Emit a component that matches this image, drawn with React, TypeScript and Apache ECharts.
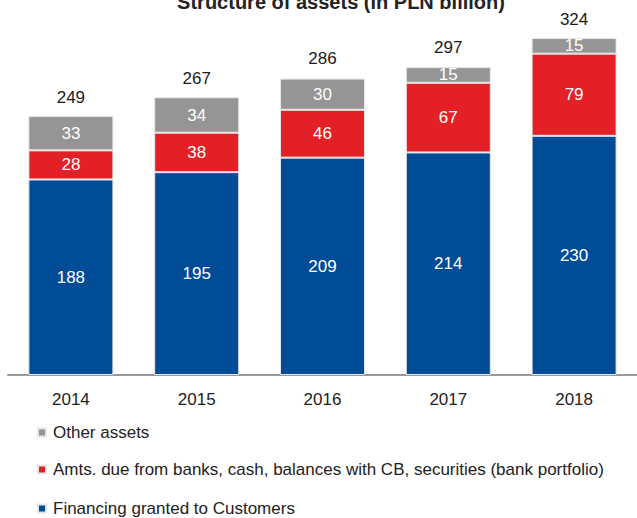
import React, { useEffect, useRef } from "react";
import * as echarts from "echarts";

const years = ["2014", "2015", "2016", "2017", "2018"];
const financing = [188, 195, 209, 214, 230];
const amtsDue = [28, 38, 46, 67, 79];
const otherAssets = [33, 34, 30, 15, 15];
const totals = [249, 267, 286, 297, 324];

const seriesNames = [
  "Financing granted to Customers",
  "Amts. due from banks, cash, balances with CB, securities (bank portfolio)",
  "Other assets",
];
const titleText = "Structure of assets (in PLN billion)";

const FONT = "'Liberation Sans', Arial, sans-serif";

export default function App() {
  const ref = useRef<HTMLDivElement>(null);
  useEffect(() => {
    if (!ref.current) return;
    const chart = echarts.init(ref.current, null, { renderer: "svg" });
    const innerLabel = {
      show: true,
      position: "inside" as const,
      color: "#ffffff",
      fontSize: 17,
      fontFamily: FONT,
    };
    const border = { borderColor: "#e6e6e6", borderWidth: 1 };
    const legendTops = [424, 461, 500];
    const legendOrder = [seriesNames[2], seriesNames[1], seriesNames[0]];
    chart.setOption({
      animation: false,
      textStyle: { fontFamily: FONT },
      graphic: [
        {
          type: "text",
          x: 341,
          y: 12,
          style: {
            text: titleText,
            fontSize: 20,
            fontWeight: "bold",
            fontFamily: FONT,
            fill: "#222222",
            textAlign: "center",
            textVerticalAlign: "bottom",
          },
        },
      ],
      grid: { left: 8, width: 637, top: 11, height: 364, containLabel: false },
      legend: legendOrder.map((name, i) => ({
        orient: "vertical",
        left: 37,
        top: legendTops[i],
        padding: 0,
        itemWidth: 8,
        itemHeight: 8,
        icon: "rect",
        data: [name],
        textStyle: { fontSize: 17, color: "#222222", fontFamily: FONT, padding: [0, 0, 0, 2] },
        selectedMode: false,
      })),
      xAxis: {
        type: "category",
        data: years,
        axisTick: { show: false },
        axisLine: { lineStyle: { color: "#999999", width: 2 } },
        axisLabel: { fontSize: 17, color: "#222222", margin: 16, fontFamily: FONT },
      },
      yAxis: {
        type: "value",
        min: 0,
        max: 350,
        show: false,
        splitLine: { show: false },
      },
      series: [
        {
          name: seriesNames[0],
          type: "bar",
          stack: "a",
          barWidth: 85,
          data: financing,
          itemStyle: { color: "#004C97", ...border },
          label: innerLabel,
        },
        {
          name: seriesNames[1],
          type: "bar",
          stack: "a",
          data: amtsDue,
          itemStyle: { color: "#E42027", ...border },
          label: innerLabel,
        },
        {
          name: seriesNames[2],
          type: "bar",
          stack: "a",
          data: otherAssets,
          itemStyle: { color: "#959595", ...border },
          label: innerLabel,
        },
        {
          name: "Total",
          type: "line",
          data: totals,
          symbol: "circle",
          symbolSize: 1,
          itemStyle: { color: "rgba(0,0,0,0)" },
          lineStyle: { opacity: 0, width: 0 },
          label: {
            show: true,
            position: "top",
            distance: 10,
            fontSize: 17,
            color: "#1a1a1a",
            fontFamily: FONT,
          },
          z: 5,
        },
      ],
    });
    return () => chart.dispose();
  }, []);
  return (
    <div
      ref={ref}
      style={{ position: "fixed", left: 0, top: 0, width: 637, height: 518, background: "#ffffff" }}
    />
  );
}
